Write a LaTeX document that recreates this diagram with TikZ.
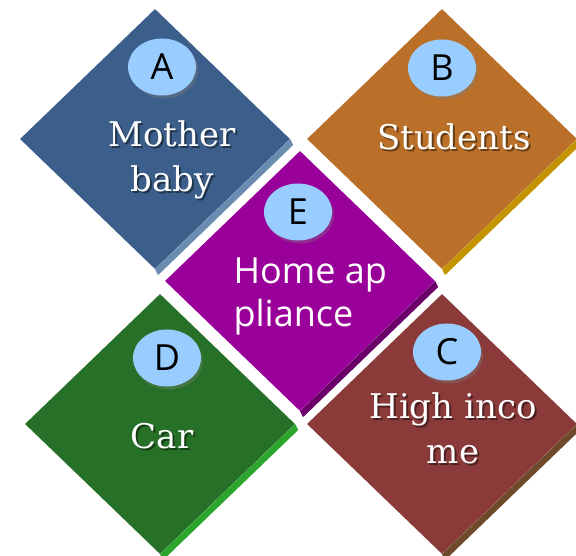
\documentclass[tikz,border=0pt]{standalone}
\usepackage{fontspec}
\setmainfont{DejaVu Serif}
\setsansfont{Open Sans}
\usetikzlibrary{shapes.geometric,shadows}
\definecolor{tile-a}{HTML}{3B5E8A}
\definecolor{tile-b}{HTML}{BA7028}
\definecolor{tile-c}{HTML}{8B3A3A}
\definecolor{tile-d}{HTML}{277027}
\definecolor{tile-e}{HTML}{990099}
\definecolor{edge-a}{HTML}{6A8CB0}
\definecolor{edge-b}{HTML}{C49400}
\definecolor{edge-c}{HTML}{6E4A2A}
\definecolor{edge-d}{HTML}{2CA52C}
\definecolor{edge-e}{HTML}{6B006B}
\definecolor{badge-blue}{HTML}{99CCFF}
\colorlet{textshadow}{black}

% a word with a dark copy set slightly below and right of it
\newcommand\sw[1]{\makebox[0pt][l]{\hspace{2pt}\raisebox{-2pt}{\textcolor{textshadow}{#1}}}#1}

\begin{document}
\begin{tikzpicture}[x=1pt, y=1pt,
    tile/.style={diamond, minimum width=270pt, minimum height=260pt, inner sep=0pt},
    badge/.style={ellipse, fill=badge-blue, minimum width=68pt, minimum height=57pt,
      inner sep=0pt, font=\sffamily\fontsize{36}{36}\selectfont,
      drop shadow={shadow xshift=2pt, shadow yshift=-3pt, opacity=.35}},
    tiletext/.style={text=white, align=center, font=\fontsize{34}{45}\selectfont},
    shadow in/.style={execute at begin node={\colorlet{textshadow}{#1!55!black}}}]
    \useasboundingbox (0,0) rectangle (576,555);

    % the five tiles
    \node[tile, fill=tile-a] (A) at (155,416) {};
    \node[tile, fill=tile-b] (B) at (442,416) {};
    \node[tile, fill=tile-e] (E) at (300,274) {};
    \node[tile, fill=tile-d] (D) at (160,131) {};
    \node[tile, fill=tile-c] (C) at (442,131) {};

    % raised edge on the lower right side
    \foreach \n/\c in {A/a,B/b,C/c,D/d,E/e}
        \fill[edge-\c] (\n.east) -- ++(3,-6) -- ([shift={(3,-6)}]\n.south) -- (\n.south) -- cycle;

    % letter badges
    \node[badge] (A-tag) at ([shift={(7,72)}]A.center) {A};
    \node[badge] (B-tag) at ([shift={(0,71)}]B.center) {B};
    \node[badge] (E-tag) at ([shift={(-2,69)}]E.center) {E};
    \node[badge] (D-tag) at ([shift={(7,66)}]D.center) {D};
    \node[badge] (C-tag) at ([shift={(5,72)}]C.center) {C};

    % captions
    \node[tiletext, shadow in=tile-a] (A-text) at ([shift={(17,-22)}]A.center) {\sw{Mother}\\\sw{baby}};
    \node[tiletext, shadow in=tile-b] (B-text) at ([shift={(12,1)}]B.center) {\sw{Students}};
    \node[tiletext, shadow in=tile-d] (D-text) at ([shift={(2,-13)}]D.center) {\sw{Car}};
    \node[tiletext, shadow in=tile-c] (C-text) at ([shift={(11,-5)}]C.center) {\sw{High inco}\\\sw{me}};
    \node[tiletext, align=left, anchor=west, font=\sffamily\fontsize{36}{43}\selectfont]
        (E-text) at ([shift={(-70,-15)}]E.center) {Home ap\\pliance};
\end{tikzpicture}
\end{document}
